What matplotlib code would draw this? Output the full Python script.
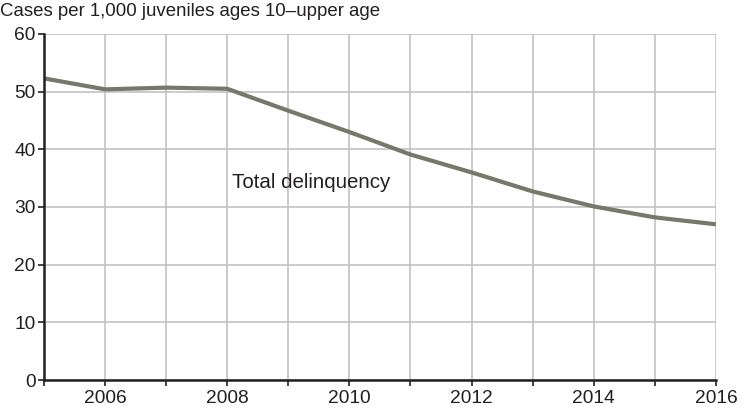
import matplotlib.pyplot as plt

years = [2005, 2006, 2007, 2008, 2009, 2010, 2011, 2012, 2013, 2014, 2015, 2016]
rate = [52.3, 50.4, 50.7, 50.5, 46.7, 43.0, 39.1, 36.0, 32.7, 30.1, 28.2, 27.0]

plt.rcParams['font.family'] = ['Liberation Sans', 'DejaVu Sans']

fig = plt.figure(figsize=(7.52, 4.13), dpi=100)
ax = fig.add_axes([0.0585, 0.0799, 0.8935, 0.8378])

ax.plot(years, rate, color='#77776a', lw=3, solid_capstyle='butt', zorder=3)

ax.set_xlim(2005, 2016)
ax.set_ylim(0, 60)
ax.set_xticks(years)
ax.set_xticklabels([str(y) if y % 2 == 0 else '' for y in years])
ax.set_yticks(range(0, 61, 10))
ax.grid(True, color='#c2c2c2', lw=1.2, zorder=0)

for s in ['top', 'right']:
    ax.spines[s].set_visible(False)
for s in ['left', 'bottom']:
    ax.spines[s].set_color('#231f20')
    ax.spines[s].set_linewidth(1.8)
    ax.spines[s].set_zorder(4)
ax.tick_params(axis='both', colors='#231f20', labelsize=13.8, length=4, width=1.2, pad=2)
ax.tick_params(axis='x', pad=3)

ax.text(2008.08, 33.3, 'Total delinquency', fontsize=14.8, color='#231f20')
fig.text(0.0, 0.971, 'Cases per 1,000 juveniles ages 10\u2013upper age', fontsize=13.4,
         color='#231f20', va='center', ha='left')

plt.savefig('out.png', dpi=100)
